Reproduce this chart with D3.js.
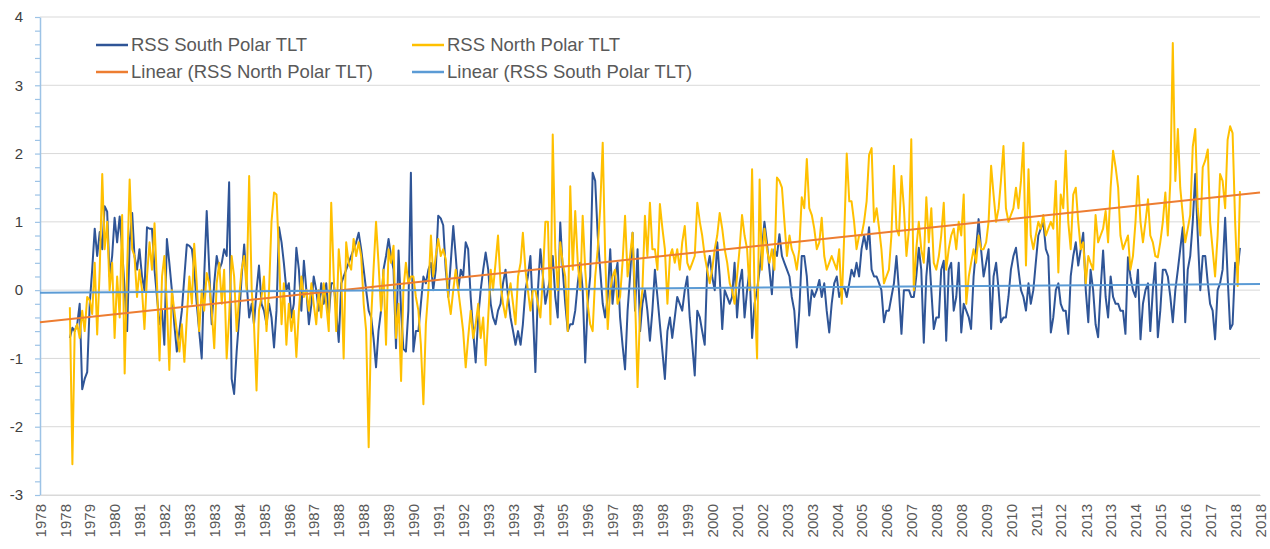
<!DOCTYPE html>
<html>
<head>
<meta charset="utf-8">
<script src="https://cdn.jsdelivr.net/npm/d3@7"></script>
<style>
  html, body { margin: 0; padding: 0; background: #fff; }
  svg { display: block; font-family: "Liberation Sans", Arial, sans-serif; }
</style>
</head>
<body>
<div id="chart"></div>
<script>
// legend names
const seriesNames = ["RSS South Polar TLT", "RSS North Polar TLT"];
const trendNames = ["Linear (RSS North Polar TLT)", "Linear (RSS South Polar TLT)"];

// monthly anomalies, first value is Jan 1979
const firstMonth = "1979-01";

const southPolar = [
  -0.7, -0.55, -0.6, -0.5, -0.2, -1.45, -1.3, -1.2, -0.2, 0.3, 0.9, 0.5,      // 1979
  0.85, 0.6, 1.23, 1.15, 0.2, 0.5, 1.06, 0.7, 1.08, 0.6, 0.0, -0.6,          // 1980
  0.7, 1.13, 0.5, 0.3, 0.6, 0.2, 0.0, 0.92, 0.9, 0.9, 0.3, -0.1,             // 1981
  -0.5, -0.3, -0.8, 0.75, 0.4, 0.0, -0.5, -0.9, -0.6, -0.3, 0.2, 0.67,       // 1982
  0.65, 0.6, 0.3, -0.2, -0.6, -1.0, 0.2, 1.16, 0.3, -0.5, 0.1, 0.5,          // 1983
  0.3, 0.4, 0.6, 0.5, 1.58, -1.3, -1.52, -0.9, -0.4, 0.2, 0.67, 0.1,         // 1984
  -0.4, -0.2, -0.5, 0.0, 0.36, -0.2, -0.3, -0.5, -0.2, -0.4, -0.84, -0.3,    // 1985
  0.92, 0.7, 0.4, 0.0, 0.1, -0.4, -0.2, 0.62, 0.3, -0.3, 0.43, 0.0,          // 1986
  -0.5, -0.2, 0.2, 0.0, -0.3, 0.1, -0.2, 0.1, -0.4, 0.1, 0.1, -0.3,          // 1987
  -0.76, 0.1, 0.2, 0.3, 0.4, 0.5, 0.6, 0.7, 0.84, 0.6, 0.3, 0.0,             // 1988
  -0.3, -0.4, -0.7, -1.13, -0.6, -0.3, 0.3, 0.5, 0.75, 0.5, 0.3, -0.85,      // 1989
  0.58, -0.3, -0.86, -0.9, -0.3, 1.72, -0.9, -0.6, -0.6, -0.2, 0.2, 0.1,     // 1990
  0.3, 0.4, 0.0, 0.3, 1.09, 1.05, 0.95, 0.3, -0.1, 0.4, 0.94, 0.5,           // 1991
  0.0, 0.3, 0.2, 0.7, 0.6, -0.1, -0.6, -1.06, -0.4, 0.0, 0.3, 0.55,          // 1992
  0.3, -0.2, -0.4, -0.5, -0.3, -0.2, 0.1, 0.3, -0.1, -0.4, -0.6, -0.8,       // 1993
  -0.6, -0.8, -0.5, 0.0, 0.2, 0.5, -0.3, -1.2, 0.0, 0.6, 0.2, -0.2,          // 1994
  0.0, 0.2, 0.5, -0.1, -0.4, 0.99, 0.3, -0.2, -0.6, -0.5, -0.5, -0.3,        // 1995
  0.1, 0.4, 0.0, -1.06, -0.2, 0.2, 1.72, 1.6, 0.8, 0.3, -0.2, -0.4,          // 1996
  -0.1, 0.6, -0.2, 0.2, 0.4, -0.4, -0.8, -1.16, -0.3, 0.2, 0.84, -0.3,       // 1997
  0.6, -0.6, -0.2, 0.0, -0.3, -0.74, -0.3, 0.3, -0.1, -0.5, -0.9, -1.3,      // 1998
  -0.6, -0.4, -0.7, -0.4, -0.1, -0.2, -0.3, 0.0, 0.2, -0.4, -0.8, -1.25,     // 1999
  -0.3, -0.4, -0.6, -0.8, 0.3, 0.5, 0.2, 0.0, 0.7, 0.2, -0.57, 0.0,          // 2000
  -0.1, -0.2, -0.1, 0.4, -0.4, 0.1, 0.3, -0.4, 0.0, 0.3, -0.7, -0.2,         // 2001
  0.0, 0.3, 0.6, 1.0, 0.7, 0.3, -0.06, 0.6, 0.5, 0.82, 0.5, 0.4,             // 2002
  0.3, 0.2, -0.1, -0.3, -0.84, -0.3, 0.5, 0.5, 0.2, -0.37, 0.0, -0.1,        // 2003
  0.0, 0.15, -0.1, 0.1, -0.3, -0.62, -0.2, 0.1, 0.2, -0.1, 0.0, 0.05,        // 2004
  -0.1, 0.1, 0.3, 0.2, 0.4, 0.2, 0.6, 0.8, 0.6, 0.92, 0.3, 0.2,              // 2005
  0.2, 0.1, 0.0, -0.47, -0.3, -0.3, -0.1, 0.1, 0.5, 0.0, -0.64, 0.0,         // 2006
  0.0, 0.0, -0.1, -0.1, 0.2, 0.62, 0.3, -0.77, 0.2, 0.62, 0.0, -0.57,        // 2007
  -0.4, -0.4, 0.3, 0.43, -0.74, 0.3, 0.4, -0.3, -0.1, 0.4, -0.62, -0.2,      // 2008
  -0.3, -0.4, -0.57, 0.2, 0.6, 1.04, 0.6, 0.2, 0.4, 0.6, -0.57, 0.2,         // 2009
  0.4, 0.0, -0.47, -0.4, -0.4, -0.1, 0.3, 0.5, 0.62, 0.3, 0.0, -0.1,         // 2010
  -0.3, 0.1, -0.2, 0.0, 0.4, 0.8, 0.9, 1.0, 0.6, 0.5, -0.62, -0.4,           // 2011
  0.0, 0.1, -0.2, -0.3, -0.3, -0.64, 0.2, 0.5, 0.7, 0.36, 0.6, 0.84,         // 2012
  0.0, -0.47, 0.3, 0.0, -0.5, -0.69, 0.0, 0.58, -0.1, -0.4, 0.2, -0.1,       // 2013
  -0.2, -0.2, -0.3, -0.3, -0.64, 0.48, 0.2, 0.0, -0.1, 0.3, -0.72, -0.2,     // 2014
  0.0, 0.1, -0.6, 0.0, 0.4, -0.69, -0.3, 0.3, 0.3, 0.2, -0.1, -0.47,         // 2015
  0.0, 0.3, 0.6, 0.92, -0.47, 0.3, 0.5, 1.0, 1.7, 0.8, 0.0, 0.5,             // 2016
  0.5, 0.1, -0.2, -0.3, -0.72, 0.0, 0.1, 0.3, 1.06, 0.2, -0.57, -0.5,        // 2017
  0.4, 0.3, 0.62                                                              // 2018
];

const northPolar = [
  -0.25, -2.55, -0.6, -0.5, -0.7, -0.3, -0.6, -0.1, -0.15, -0.35, 0.4, -0.65, // 1979
  0.3, 1.7, 0.6, 1.0, 0.0, 0.4, -0.7, 0.2, -0.4, 1.1, -1.22, 0.3,            // 1980
  1.62, 0.6, 0.5, -0.1, 0.3, 0.0, -0.57, 0.2, 0.7, 0.3, 0.98, 0.1,           // 1981
  -1.03, 0.2, 0.5, -0.2, -1.17, 0.0, -0.3, -0.6, -0.9, -0.5, -1.05, -0.4,    // 1982
  0.2, -0.2, 0.68, 0.1, -0.6, 0.0, -0.3, 0.25, 0.1, -0.3, -0.85, 0.1,        // 1983
  0.4, -0.2, 0.3, -1.0, -0.4, 0.5, 0.2, -0.6, -0.1, 0.3, 0.5, 0.0,           // 1984
  1.67, 0.0, -0.5, -1.47, -0.3, -0.1, 0.2, -0.6, 0.0, 1.0, 1.43, 1.4,        // 1985
  0.5, -0.5, 0.1, -0.8, -0.2, -0.6, -0.3, -0.98, -0.3, 0.2, -0.1, 0.0,       // 1986
  -0.3, 0.1, -0.2, -0.5, 0.0, -0.4, 0.1, -0.2, -0.6, 1.28, 0.2, -0.6,        // 1987
  0.6, 0.2, -1.0, 0.7, 0.4, 0.3, 0.75, 0.5, 0.7, 0.5, -0.2, -0.6,            // 1988
  -2.3, -0.4, 0.3, 1.0, 0.4, -0.3, 0.3, -0.8, 0.6, 0.4, 0.65, -0.7,          // 1989
  -0.2, -1.33, 0.0, 0.4, 0.1, 0.2, 0.2, -0.1, -0.3, -0.8, -1.67, -0.5,       // 1990
  0.0, 0.8, 0.2, 0.5, 0.75, 0.5, 0.6, 0.45, -0.1, -0.35, 0.0, 0.3,           // 1991
  0.0, -0.3, -0.6, -1.13, -0.7, -0.3, -0.7, -0.5, -0.2, -0.7, -0.4, -1.1,    // 1992
  -0.4, 0.3, 0.0, 0.4, 0.8, 0.1, -0.2, -0.4, -0.1, 0.1, -0.2, -0.5,          // 1993
  0.2, 0.4, 0.84, 0.3, 0.0, -0.3, 0.0, 0.0, -0.2, -0.4, 0.2, 1.0,            // 1994
  1.0, -0.5, 2.28, 0.6, 0.0, 0.7, 0.4, 0.2, -0.6, 1.52, 0.3, 1.16,           // 1995
  0.4, 0.0, 1.09, 0.3, -0.2, -0.5, -0.6, 0.2, 0.6, 1.2, 2.16, 0.5,           // 1996
  -0.57, 0.0, 0.2, 0.3, -0.2, -0.1, 0.4, 1.09, 0.2, 0.5, 0.84, -0.1,         // 1997
  -1.42, -0.3, 0.0, 1.09, 0.5, 1.28, 0.6, 0.6, 0.3, 1.26, 0.9, 0.6,          // 1998
  -0.2, 0.5, 0.6, 0.4, 0.6, 0.3, 0.7, 0.94, 0.4, 0.3, 0.4, 0.5,              // 1999
  1.28, 1.0, 0.8, 0.5, 0.3, 0.1, 0.3, 0.6, 0.8, 1.13, 0.9, 0.6,              // 2000
  0.4, 0.1, 0.0, -0.2, 0.2, 0.6, 1.1, 0.8, 0.6, 0.0, 1.77, 0.0,              // 2001
  -1.0, 1.62, 0.3, 0.9, 0.6, 0.4, 0.6, 0.3, 1.65, 1.6, 1.5, 1.0,             // 2002
  0.5, 0.8, 0.6, 0.5, 0.3, 0.6, 1.36, 1.2, 1.92, 1.2, 1.1, 0.9,              // 2003
  0.6, 0.7, 1.06, 0.5, 0.3, 0.4, 0.5, 0.4, 0.3, 0.6, -0.2, 0.8,              // 2004
  2.0, 1.3, 1.3, 1.0, 0.6, 0.8, 0.8, 1.0, 1.3, 1.98, 2.08, 1.0,              // 2005
  1.2, 0.9, 0.6, 0.1, 0.2, 0.3, 0.8, 1.82, 0.9, 0.8, 1.67, 1.2,              // 2006
  0.5, 0.9, 2.21, 0.0, 0.6, 1.0, 0.6, 0.4, 1.36, 0.7, 1.2, 0.4,              // 2007
  0.3, 0.5, 0.8, 1.28, 0.3, 0.6, 0.8, 0.9, 0.6, 1.0, 0.8, 1.4,               // 2008
  -0.2, 0.2, 0.4, 0.6, 0.4, 0.8, 0.6, 0.6, 0.7, 1.0, 1.82, 1.4,              // 2009
  1.0, 1.2, 1.6, 2.11, 1.2, 1.0, 1.1, 1.2, 1.5, 1.2, 1.6, 2.16,              // 2010
  0.36, 1.77, 0.8, 0.6, 0.8, 1.0, 0.9, 1.1, 0.8, 0.9, 1.0, 0.9,              // 2011
  1.6, 0.26, 1.4, 1.2, 2.04, 1.0, 0.6, 1.4, 1.5, 1.0, 0.6, 0.7,              // 2012
  0.1, 0.5, 0.4, 0.3, 1.1, 0.7, 0.8, 0.9, 1.16, 0.7, 1.5, 2.04,              // 2013
  1.8, 1.5, 0.8, 0.6, 0.7, 0.8, 0.3, 0.5, 1.0, 1.67, 1.0, 0.7,               // 2014
  1.0, 1.33, 0.8, 0.7, 0.5, 0.48, 0.7, 1.0, 1.43, 0.8, 1.6, 3.62,            // 2015
  1.6, 2.36, 1.5, 1.1, 0.7, 0.9, 1.1, 2.1, 2.36, 1.2, 0.8, 1.8,              // 2016
  1.9, 2.06, 1.0, 0.6, 0.2, 0.8, 1.7, 1.6, 1.2, 2.2, 2.4, 2.3,               // 2017
  1.0, 0.06, 1.45                                                             // 2018
];

// linear trend lines, drawn across the whole axis
const trendMonths = ["1978-01", "2018-11"];
const northTrend = [-0.47, 1.43];
const southTrend = [-0.04, 0.09];

// axes
const yTicks = [-3, -2, -1, 0, 1, 2, 3, 4];
const axisStartMonth = "1978-01";
const xTickLabels = ["1978", "1978", "1979", "1980", "1981", "1982", "1983", "1983", "1984", "1985",
  "1986", "1987", "1988", "1988", "1989", "1990", "1991", "1992", "1993", "1993",
  "1994", "1995", "1996", "1997", "1998", "1998", "1999", "2000", "2001", "2002",
  "2003", "2003", "2004", "2005", "2006", "2007", "2008", "2008", "2009", "2010",
  "2011", "2012", "2013", "2013", "2014", "2015", "2016", "2017", "2018", "2018"];

const W = 1270, H = 549;
const margin = { left: 40, right: 1260, top: 17, bottom: 495 };

const parseMonth = d3.timeParse("%Y-%m");
const axisStart = parseMonth(axisStartMonth);
const start = parseMonth(firstMonth);

const tickDates = xTickLabels.map((d, i) => d3.timeMonth.offset(axisStart, 10 * i));

const x = d3.scaleTime()
  .domain([axisStart, tickDates[tickDates.length - 1]])
  .range([margin.left, margin.right]);

const y = d3.scaleLinear()
  .domain([d3.min(yTicks), d3.max(yTicks)])
  .range([margin.bottom, margin.top]);

const toPoints = arr => arr.map((v, i) => ({ date: d3.timeMonth.offset(start, i), value: v }));
const south = toPoints(southPolar);
const north = toPoints(northPolar);
const trendN = trendMonths.map((m, i) => ({ date: parseMonth(m), value: northTrend[i] }));
const trendS = trendMonths.map((m, i) => ({ date: parseMonth(m), value: southTrend[i] }));

const svg = d3.select("#chart")
  .append("svg")
    .attr("width", W)
    .attr("height", H);

svg.append("rect")
  .attr("width", W)
  .attr("height", H)
  .attr("fill", "#fff");

// horizontal gridlines
svg.append("g")
  .selectAll("line")
  .data(yTicks)
  .join("line")
    .attr("x1", margin.left)
    .attr("x2", margin.right)
    .attr("y1", d => y(d))
    .attr("y2", d => y(d))
    .attr("stroke", "#d9d9d9")
    .attr("stroke-width", 1);

// y axis with minor ticks every 0.2
const yMinor = d3.range(0, 36).map(i => -3 + i * 0.2);
const yAxis = svg.append("g")
  .attr("transform", `translate(${margin.left},0)`)
  .call(d3.axisLeft(y)
    .tickValues(yMinor)
    .tickSize(5)
    .tickSizeOuter(0)
    .tickPadding(12)
    .tickFormat(d => Math.abs(d - Math.round(d)) < 1e-6 ? String(Math.round(d)) : ""));

yAxis.select(".domain").attr("stroke", "#9dc3e6").attr("stroke-width", 1.5);
yAxis.selectAll(".tick line").attr("stroke", "#9dc3e6").attr("stroke-width", 1.2);
yAxis.selectAll(".tick text")
  .attr("fill", "#404040")
  .style("font-size", "15px")
  .style("font-family", "'Liberation Sans', Arial, sans-serif");

// x axis, labels every 10 months
const xAxis = svg.append("g")
  .attr("transform", `translate(0,${margin.bottom})`)
  .call(d3.axisBottom(x)
    .tickValues(tickDates)
    .tickSize(0)
    .tickFormat((d, i) => xTickLabels[i]));

xAxis.select(".domain").attr("stroke", "#d9d9d9");
xAxis.selectAll(".tick text")
  .attr("transform", "rotate(-90)")
  .attr("x", -9)
  .attr("y", 0)
  .attr("dy", "0.35em")
  .style("text-anchor", "end")
  .attr("fill", "#595959")
  .style("font-size", "15px")
  .style("font-family", "'Liberation Sans', Arial, sans-serif");

const line = d3.line()
  .x(d => x(d.date))
  .y(d => y(d.value));

svg.append("path")
  .datum(south)
  .attr("fill", "none")
  .attr("stroke", "#2f5597")
  .attr("stroke-width", 2)
  .attr("stroke-linejoin", "round")
  .attr("d", line);

svg.append("path")
  .datum(north)
  .attr("fill", "none")
  .attr("stroke", "#ffc000")
  .attr("stroke-width", 2)
  .attr("stroke-linejoin", "round")
  .attr("d", line);

svg.append("path")
  .datum(trendN)
  .attr("fill", "none")
  .attr("stroke", "#ed7d31")
  .attr("stroke-width", 2)
  .attr("d", line);

svg.append("path")
  .datum(trendS)
  .attr("fill", "none")
  .attr("stroke", "#5b9bd5")
  .attr("stroke-width", 2)
  .attr("d", line);

// legend
const legendItems = [
  { name: seriesNames[0], color: "#2f5597", lx: 96, ly: 45 },
  { name: seriesNames[1], color: "#ffc000", lx: 412, ly: 45 },
  { name: trendNames[0], color: "#ed7d31", lx: 96, ly: 72 },
  { name: trendNames[1], color: "#5b9bd5", lx: 412, ly: 72 }
];

const legend = svg.append("g")
  .selectAll("g")
  .data(legendItems)
  .join("g")
    .attr("transform", d => `translate(${d.lx},${d.ly})`);

legend.append("line")
  .attr("x1", 0)
  .attr("x2", 32)
  .attr("stroke", d => d.color)
  .attr("stroke-width", 2.5);

legend.append("text")
  .attr("x", 35)
  .attr("dy", "0.35em")
  .attr("fill", "#595959")
  .style("font-size", "18.5px")
  .text(d => d.name);
</script>
</body>
</html>
